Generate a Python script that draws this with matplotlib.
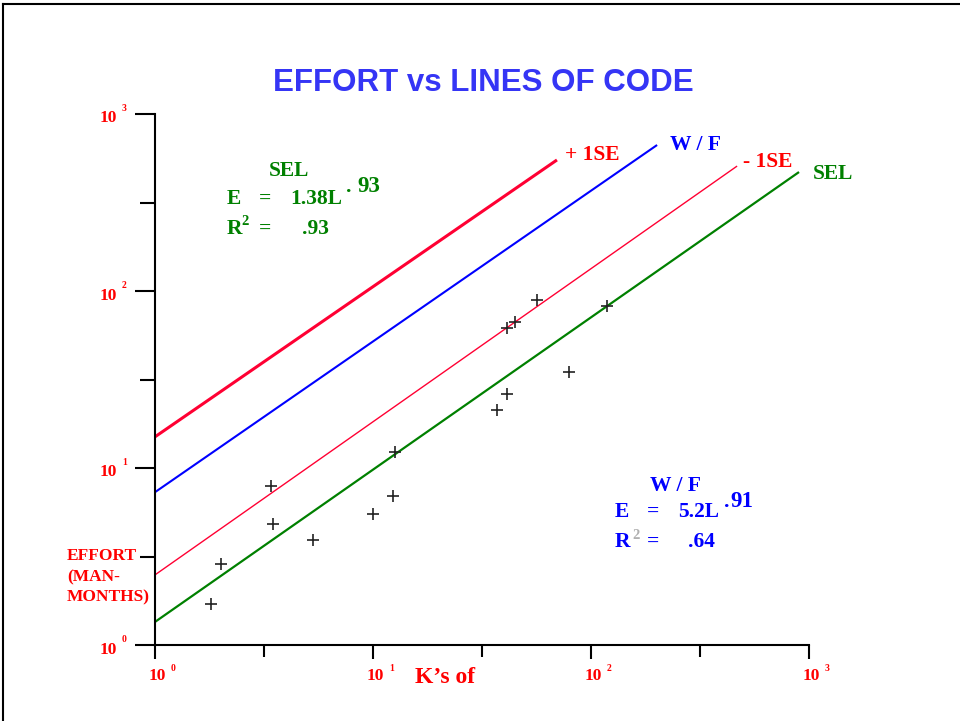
import matplotlib
matplotlib.use("Agg")
import matplotlib.pyplot as plt
from matplotlib.lines import Line2D
from matplotlib.ticker import FixedLocator, NullFormatter

# project sizes (K lines of code) and effort (man-months)
kloc = [1.81, 2.01, 3.40, 3.48, 5.31, 10.0, 12.4, 12.6, 37.0, 41.2, 41.2, 44.8, 56.5, 79.3, 118]
effort = [1.71, 2.87, 7.91, 4.83, 3.92, 5.50, 6.95, 12.3, 21.3, 26.2, 61.8, 66.8, 89.0, 34.9, 82]

# fitted lines: effort at L = 1 and at the last plotted L
fit_names = ['+ 1SE', 'W / F', '- 1SE', 'SEL']
fit_start_E = [15.0, 7.3, 2.49, 1.35]
fit_end_L = [69.8, 201, 468, 900]
fit_end_E = [550, 668, 508, 470]

decades = [0, 1, 2, 3]

fit_colors = ['#ff0033', '#0000ff', '#ff0033', '#008000']
label_colors = ['#ff0000', '#0000ff', '#ff0000', '#008000']
fit_widths = [2.2, 1.5, 1.0, 1.6]
label_offsets = [(8, 0), (13, -5), (6, -1), (14, -7)]  # pixels from line end

W, H = 960, 721
PT = 0.72  # points per pixel at 100 dpi
RED, BLUE, GREEN = '#ff0000', '#0000ff', '#008000'

fig = plt.figure(figsize=(W / 100, H / 100), dpi=100)
ax = fig.add_axes([155 / W, (H - 645) / H, (809 - 155) / W, (645 - 114) / H])
ax.set_xscale('log')
ax.set_yscale('log')
ax.set_xlim(1, 1000)
ax.set_ylim(1, 1000)

for side in ['top', 'right']:
    ax.spines[side].set_visible(False)
for side in ['left', 'bottom']:
    ax.spines[side].set_linewidth(1.5)

majors = [10 ** d for d in decades]
minors = [10 ** (d + 0.5) for d in decades[:-1]]
for axis in [ax.xaxis, ax.yaxis]:
    axis.set_major_locator(FixedLocator(majors))
    axis.set_minor_locator(FixedLocator(minors))
    axis.set_major_formatter(NullFormatter())
    axis.set_minor_formatter(NullFormatter())
ax.tick_params(axis='x', which='major', length=10, width=1.5, direction='out')
ax.tick_params(axis='x', which='minor', length=8.5, width=1.5, direction='out')
ax.tick_params(axis='y', which='major', length=14.5, width=1.5, direction='out')
ax.tick_params(axis='y', which='minor', length=11, width=1.5, direction='out')

serif = dict(family='Liberation Serif', weight='bold')

# tick labels: "10" with a small detached exponent
for d in decades:
    v = 10 ** d
    ax.annotate('10', xy=(0, v), xycoords=('axes fraction', 'data'),
                xytext=(-38 * PT, -8.5 * PT), textcoords='offset points',
                ha='right', va='baseline', color=RED, fontsize=12.5, **serif)
    ax.annotate(str(d), xy=(0, v), xycoords=('axes fraction', 'data'),
                xytext=(-33 * PT, 3 * PT), textcoords='offset points',
                ha='left', va='baseline', color=RED, fontsize=7, **serif)
    ax.annotate('10', xy=(v, 0), xycoords=('data', 'axes fraction'),
                xytext=(-6 * PT, -35 * PT), textcoords='offset points',
                ha='left', va='baseline', color=RED, fontsize=12.5, **serif)
    ax.annotate(str(d), xy=(v, 0), xycoords=('data', 'axes fraction'),
                xytext=(16 * PT, -26 * PT), textcoords='offset points',
                ha='left', va='baseline', color=RED, fontsize=7, **serif)

# fitted lines and their labels
for name, e0, l1, e1, c, lc, lw, off in zip(fit_names, fit_start_E, fit_end_L, fit_end_E,
                                            fit_colors, label_colors, fit_widths, label_offsets):
    ax.plot([1, l1], [e0, e1], color=c, lw=lw, solid_capstyle='butt', clip_on=False)
    ax.annotate(name, xy=(l1, e1), xytext=(off[0] * PT, off[1] * PT),
                textcoords='offset points', ha='left', va='baseline',
                color=lc, fontsize=15.5, annotation_clip=False, **serif)

ax.plot(kloc, effort, linestyle='none', marker='+', markersize=9,
        markeredgewidth=1.2, color='#222222')


def ftext(x, y, s, color, size, ha='left', **kw):
    # x, y in pixels from the top-left corner, y at the text baseline
    opts = dict(serif)
    opts.update(kw)
    fig.text(x / W, 1 - y / H, s, color=color, fontsize=size, ha=ha, va='baseline', **opts)


fig.text(483 / W, 1 - 91 / H, 'EFFORT vs LINES OF CODE', color='#3535f5',
         fontsize=22.5, family='Liberation Sans', weight='bold', ha='center', va='baseline')

# SEL regression
ftext(289, 176, 'SEL', GREEN, 15.5, ha='center')
ftext(227, 203.5, 'E', GREEN, 15.5)
ftext(259, 203.5, '=', GREEN, 15.5)
ftext(290, 203.5, '1.38L', GREEN, 15.5)
ftext(346, 192, '.', GREEN, 15.5)
ftext(357, 192, '93', GREEN, 16.5)
ftext(227, 234, 'R', GREEN, 15.5)
ftext(241.5, 225, '2', GREEN, 10.5)
ftext(259, 234, '=', GREEN, 15.5)
ftext(302, 234, '.93', GREEN, 15.5)

# W/F regression
ftext(676, 491, 'W / F', BLUE, 15.5, ha='center')
ftext(615, 517, 'E', BLUE, 15.5)
ftext(647, 517, '=', BLUE, 15.5)
ftext(678, 517, '5.2L', BLUE, 15.5)
ftext(724, 507, '.', BLUE, 15.5)
ftext(730, 507, '91', BLUE, 16.5)
ftext(615, 547, 'R', BLUE, 15.5)
ftext(632, 539, '2', '#b0b0b0', 10.5)
ftext(647, 547, '=', BLUE, 15.5)
ftext(688, 547, '.64', BLUE, 15.5)

# axis titles
ftext(67, 560, 'EFFORT', RED, 12.5)
ftext(67, 581, '(MAN-', RED, 12.5)
ftext(67, 601, 'MONTHS)', RED, 12.5)
ftext(415, 683, 'K\u2019s of', RED, 17)

# page frame along the top and left edges
fig.add_artist(Line2D([2.5 / W, 2.5 / W], [0, 1 - 3.5 / H], color='black', lw=1.5))
fig.add_artist(Line2D([2.5 / W, 1], [1 - 3.5 / H, 1 - 3.5 / H], color='black', lw=1.5))

fig.savefig('out.png', dpi=100)
